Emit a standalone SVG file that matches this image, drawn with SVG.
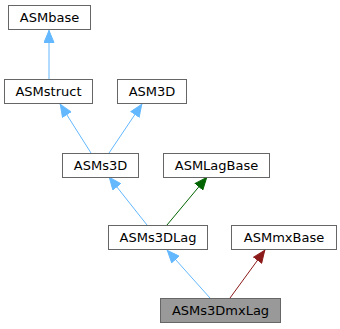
<svg xmlns="http://www.w3.org/2000/svg" width="340" height="329" viewBox="0 0 340 329">
<style>
.node rect{fill:#ffffff;stroke:#666666;stroke-width:1}
.node.focus rect{fill:#999999}
.node text{font-family:"DejaVu Sans",sans-serif;font-size:13px;fill:#000000;text-anchor:middle}
.edge{fill:none;stroke-width:1}
.blue{stroke:#63b8ff}
.green{stroke:#006400}
.red{stroke:#8b1a1a}
</style>
<defs>
<marker id="ab" viewBox="0 0 13 11" refX="13" refY="5.5" markerWidth="13" markerHeight="11" markerUnits="userSpaceOnUse" orient="auto"><path d="M0.5,0.5 L12.5,5.5 L0.5,10.5 z" fill="#63b8ff" stroke="#63b8ff"/></marker>
<marker id="ag" viewBox="0 0 13 11" refX="13" refY="5.5" markerWidth="13" markerHeight="11" markerUnits="userSpaceOnUse" orient="auto"><path d="M0.5,0.5 L12.5,5.5 L0.5,10.5 z" fill="#006400" stroke="#006400"/></marker>
<marker id="ar" viewBox="0 0 13 11" refX="13" refY="5.5" markerWidth="13" markerHeight="11" markerUnits="userSpaceOnUse" orient="auto"><path d="M0.5,0.5 L12.5,5.5 L0.5,10.5 z" fill="#8b1a1a" stroke="#8b1a1a"/></marker>
</defs>
<g id="edges">
<line class="edge blue" x1="49" y1="79" x2="49" y2="30" marker-end="url(#ab)"/>
<line class="edge blue" x1="91" y1="153" x2="60" y2="104" marker-end="url(#ab)"/>
<line class="edge blue" x1="109" y1="153" x2="142" y2="104" marker-end="url(#ab)"/>
<line class="edge blue" x1="147" y1="225" x2="109" y2="177" marker-end="url(#ab)"/>
<line class="edge green" x1="167" y1="225" x2="207" y2="177" marker-end="url(#ag)"/>
<line class="edge blue" x1="210" y1="298" x2="167" y2="250" marker-end="url(#ab)"/>
<line class="edge red" x1="230" y1="298" x2="265" y2="250" marker-end="url(#ar)"/>
</g>
<g id="ASMbase" class="node"><rect x="8.5" y="5.5" width="82" height="24"/><text x="49.5" y="22">ASMbase</text></g>
<g id="ASMstruct" class="node"><rect x="4.5" y="79.5" width="88" height="24"/><text x="48.5" y="96">ASMstruct</text></g>
<g id="ASM3D" class="node"><rect x="117.5" y="79.5" width="69" height="24"/><text x="152" y="96">ASM3D</text></g>
<g id="ASMs3D" class="node"><rect x="62.5" y="153.5" width="76" height="24"/><text x="100.5" y="170">ASMs3D</text></g>
<g id="ASMLagBase" class="node"><rect x="163.5" y="153.5" width="106" height="24"/><text x="216.5" y="170">ASMLagBase</text></g>
<g id="ASMs3DLag" class="node"><rect x="108.5" y="225.5" width="99" height="24"/><text x="158" y="242">ASMs3DLag</text></g>
<g id="ASMmxBase" class="node"><rect x="231.5" y="225.5" width="105" height="24"/><text x="284" y="242">ASMmxBase</text></g>
<g id="ASMs3DmxLag" class="node focus"><rect x="160.5" y="298.5" width="120" height="24"/><text x="220.5" y="315">ASMs3DmxLag</text></g>
</svg>
